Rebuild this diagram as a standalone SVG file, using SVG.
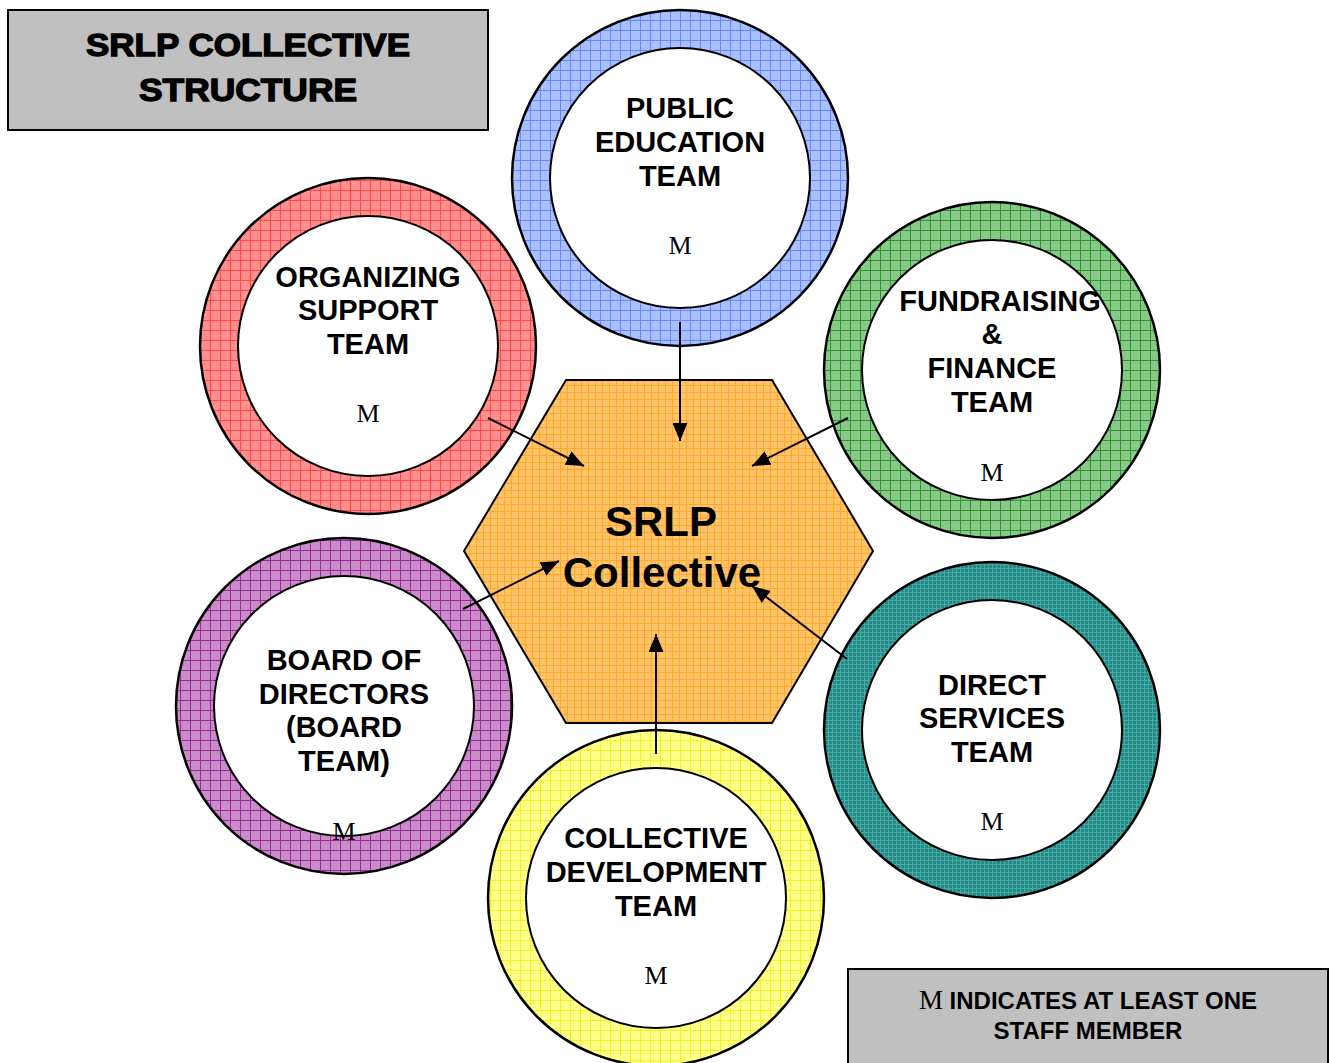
<svg xmlns="http://www.w3.org/2000/svg" width="1330" height="1063" viewBox="0 0 1330 1063">
  <style>
    .box { fill: #c0c0c0; stroke: #000; stroke-width: 2; }
    .ring { stroke: #000; stroke-width: 2.5; }
    .hole { fill: #fff; stroke: #000; stroke-width: 2; }
    .lbl { font-family: "Liberation Sans", Arial, sans-serif; font-weight: bold; font-size: 29px; text-anchor: middle; fill: #000; }
    .m { font-family: "Liberation Serif", "Times New Roman", serif; font-size: 26px; text-anchor: middle; fill: #000; }
    .title { font-family: "Liberation Sans", Arial, sans-serif; font-weight: bold; font-size: 31px; text-anchor: middle; fill: #000; stroke: #000; stroke-width: 1.3; }
    .core { font-family: "Liberation Sans", Arial, sans-serif; font-weight: bold; font-size: 42px; text-anchor: middle; fill: #000; }
    .legend { font-family: "Liberation Sans", Arial, sans-serif; font-weight: bold; font-size: 24px; text-anchor: middle; fill: #000; }
    .link { stroke: #000; stroke-width: 2; fill: none; marker-end: url(#head); }
  </style>
  <defs>
    <marker id="head" markerUnits="userSpaceOnUse" markerWidth="19" markerHeight="15" refX="18" refY="7.5" orient="auto">
      <path d="M0,0 L18,7.5 L0,15 Z" fill="#000"/>
    </marker>
    <!-- fine dithered grid fills -->
    <pattern id="gBlue" patternUnits="userSpaceOnUse" width="10" height="10">
      <rect width="10" height="10" fill="#a8c0ff"/>
      <path d="M0,0.5 H10 M0.5,0 V10" stroke="#6a86ff" stroke-width="1"/>
    </pattern>
    <pattern id="gRed" patternUnits="userSpaceOnUse" width="10" height="10">
      <rect width="10" height="10" fill="#ff8e8e"/>
      <path d="M0,0.5 H10 M0.5,0 V10" stroke="#ff4a4a" stroke-width="1"/>
    </pattern>
    <pattern id="gGreen" patternUnits="userSpaceOnUse" width="10" height="10">
      <rect width="10" height="10" fill="#88c888"/>
      <path d="M0,0.5 H10 M0.5,0 V10" stroke="#2f942f" stroke-width="1"/>
    </pattern>
    <pattern id="gPurple" patternUnits="userSpaceOnUse" width="10" height="10">
      <rect width="10" height="10" fill="#c98cc9"/>
      <path d="M0,0.5 H10 M0.5,0 V10" stroke="#962a96" stroke-width="1"/>
    </pattern>
    <pattern id="gTeal" patternUnits="userSpaceOnUse" width="4" height="4">
      <rect width="4" height="4" fill="#1f8c88"/>
      <path d="M0,0.5 H4 M0.5,0 V4" stroke="#4ea6a2" stroke-width="1"/>
    </pattern>
    <pattern id="gYellow" patternUnits="userSpaceOnUse" width="10" height="10">
      <rect width="10" height="10" fill="#ffff8c"/>
      <path d="M0,0.5 H10 M0.5,0 V10" stroke="#f6f222" stroke-width="1"/>
    </pattern>
    <pattern id="gOrange" patternUnits="userSpaceOnUse" width="7" height="7">
      <rect width="7" height="7" fill="#ffc46a"/>
      <path d="M0,0.5 H7 M0.5,0 V7" stroke="#ffa82a" stroke-width="1"/>
    </pattern>
  </defs>

  <!-- title -->
  <g id="title">
    <rect class="box" x="8" y="10" width="480" height="120"/>
    <text class="title" x="248" y="56" textLength="324" lengthAdjust="spacingAndGlyphs">SRLP COLLECTIVE</text>
    <text class="title" x="248" y="101" textLength="218" lengthAdjust="spacingAndGlyphs">STRUCTURE</text>
  </g>

  <!-- central hexagon -->
  <g id="collective">
    <polygon points="566,380 772,380 873,551 772,723 566,723 464,551" fill="url(#gOrange)" stroke="#000" stroke-width="2"/>
    <text class="core" x="661" y="536">SRLP</text>
    <text class="core" x="662" y="587">Collective</text>
  </g>

  <g id="public-education">
    <circle class="ring" cx="680" cy="178" r="168" fill="url(#gBlue)"/>
    <circle class="hole" cx="680" cy="178" r="130"/>
    <text class="lbl" x="680" y="118">PUBLIC</text>
    <text class="lbl" x="680" y="152">EDUCATION</text>
    <text class="lbl" x="680" y="186">TEAM</text>
    <text class="m" x="680" y="254">M</text>
  </g>

  <g id="organizing-support">
    <circle class="ring" cx="368" cy="346" r="168" fill="url(#gRed)"/>
    <circle class="hole" cx="368" cy="346" r="130"/>
    <text class="lbl" x="368" y="287">ORGANIZING</text>
    <text class="lbl" x="368" y="320">SUPPORT</text>
    <text class="lbl" x="368" y="354">TEAM</text>
    <text class="m" x="368" y="422">M</text>
  </g>

  <g id="fundraising-finance">
    <circle class="ring" cx="992" cy="370" r="168" fill="url(#gGreen)"/>
    <circle class="hole" cx="992" cy="370" r="130"/>
    <text class="lbl" x="1000" y="311">FUNDRAISING</text>
    <text class="lbl" x="992" y="344">&amp;</text>
    <text class="lbl" x="992" y="378">FINANCE</text>
    <text class="lbl" x="992" y="412">TEAM</text>
    <text class="m" x="992" y="481">M</text>
  </g>

  <g id="board-of-directors">
    <circle class="ring" cx="344" cy="706" r="168" fill="url(#gPurple)"/>
    <circle class="hole" cx="344" cy="706" r="130"/>
    <text class="lbl" x="344" y="670">BOARD OF</text>
    <text class="lbl" x="344" y="704">DIRECTORS</text>
    <text class="lbl" x="344" y="737">(BOARD</text>
    <text class="lbl" x="344" y="771">TEAM)</text>
    <text class="m" x="344" y="840">M</text>
  </g>

  <g id="direct-services">
    <circle class="ring" cx="992" cy="730" r="168" fill="url(#gTeal)"/>
    <circle class="hole" cx="992" cy="730" r="130"/>
    <text class="lbl" x="992" y="695">DIRECT</text>
    <text class="lbl" x="992" y="728">SERVICES</text>
    <text class="lbl" x="992" y="762">TEAM</text>
    <text class="m" x="992" y="830">M</text>
  </g>

  <g id="collective-development">
    <circle class="ring" cx="656" cy="898" r="168" fill="url(#gYellow)"/>
    <circle class="hole" cx="656" cy="898" r="130"/>
    <text class="lbl" x="656" y="848">COLLECTIVE</text>
    <text class="lbl" x="656" y="882">DEVELOPMENT</text>
    <text class="lbl" x="656" y="916">TEAM</text>
    <text class="m" x="656" y="984">M</text>
  </g>

  <!-- team-to-collective connectors -->
  <g id="connectors">
    <line class="link" x1="680" y1="322" x2="680" y2="441"/>
    <line class="link" x1="488" y1="418" x2="584" y2="466"/>
    <line class="link" x1="848" y1="418" x2="752" y2="466"/>
    <line class="link" x1="463" y1="609" x2="559" y2="561"/>
    <line class="link" x1="847" y1="659" x2="752" y2="586"/>
    <line class="link" x1="656" y1="754" x2="656" y2="634"/>
  </g>

  <!-- key -->
  <g id="legend">
    <rect class="box" x="848" y="969" width="480" height="100"/>
    <text class="legend" x="1088" y="1009"><tspan font-family="Liberation Serif, Times New Roman, serif" font-weight="normal" font-size="27">M</tspan> INDICATES AT LEAST ONE</text>
    <text class="legend" x="1088" y="1039">STAFF MEMBER</text>
  </g>
</svg>
